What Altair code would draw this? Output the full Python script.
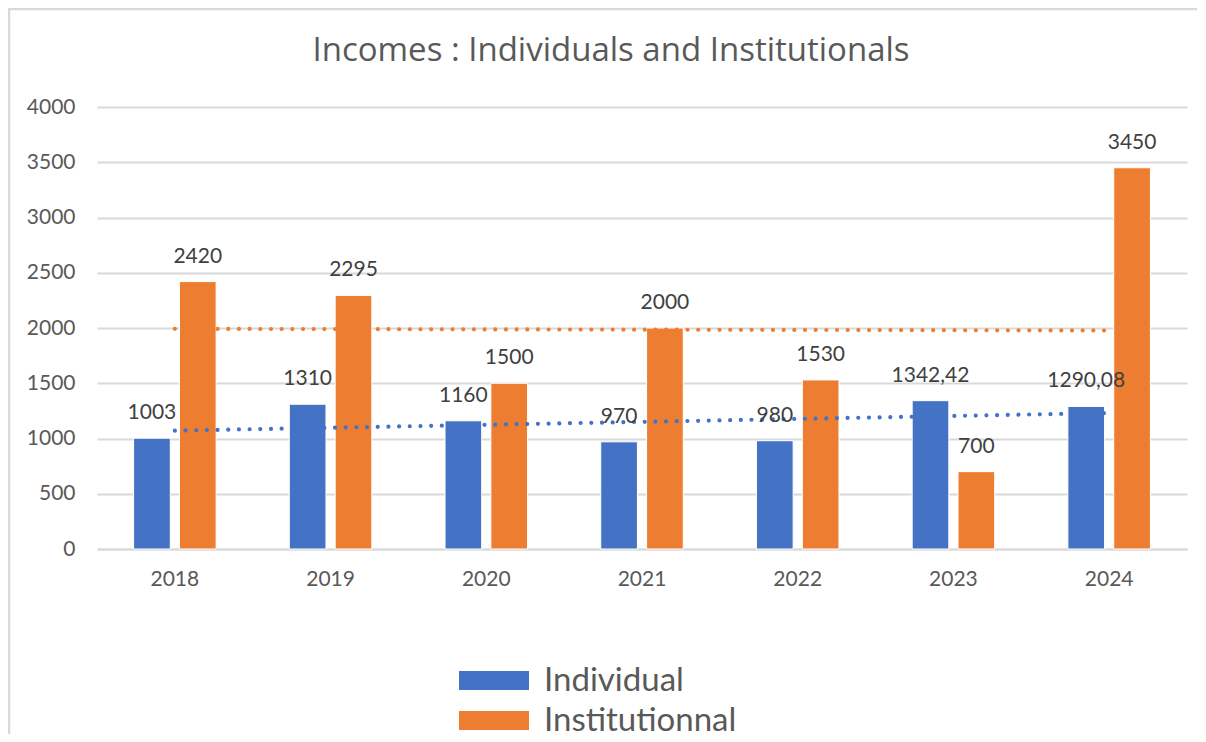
import altair as alt
import pandas as pd

years = [2018, 2019, 2020, 2021, 2022, 2023, 2024]
individual = [1003, 1310, 1160, 970, 980, 1342.42, 1290.08]
institutional = [2420, 2295, 1500, 2000, 1530, 700, 3450]
series_names = ["Individual", "Institutionnal"]
colors = ["#4472C4", "#ED7D31"]
title_text = "Incomes : Individuals and  Institutionals"

rows = []
for i, y in enumerate(years):
    rows.append({"yr": y, "series": series_names[0], "value": individual[i]})
    rows.append({"yr": y, "series": series_names[1], "value": institutional[i]})
df = pd.DataFrame(rows)

FONT = "Lato"
GRID = "#d9d9d9"
TXT = "#595959"

xscale = alt.Scale(paddingInner=0.47, paddingOuter=0.235)
color_scale = alt.Scale(domain=series_names, range=colors)

base = alt.Chart(df).transform_calculate(
    year="toString(datum.yr)",
    label="replace(toString(datum.value), '.', ',')",
)

x_enc = alt.X(
    "year:N",
    scale=xscale,
    sort=None,
    axis=alt.Axis(
        title=None, labelAngle=0, ticks=False, domainColor=GRID, domainWidth=2,
        labelFont=FONT, labelFontSize=21, labelColor=TXT, labelPadding=19,
    ),
)
y_enc = alt.Y(
    "value:Q",
    scale=alt.Scale(domain=[0, 4000], nice=False),
    axis=alt.Axis(
        title=None, values=list(range(0, 4001, 500)), format="d", ticks=False,
        domain=False, gridColor=GRID, gridWidth=2, labelFont=FONT,
        labelFontSize=21, labelColor=TXT, labelPadding=22,
    ),
)

bars = base.mark_bar(stroke="white", strokeWidth=1).encode(
    x=x_enc,
    y=y_enc,
    xOffset=alt.XOffset("series:N", scale=alt.Scale(paddingInner=0.2), sort=series_names),
    color=alt.Color(
        "series:N",
        scale=color_scale,
        legend=alt.Legend(
            title=None, orient="none", legendX=355, legendY=557, direction="vertical",
            symbolType="M-1,-1H6.368V1H-1Z", symbolSize=361, symbolStrokeWidth=0,
            symbolOpacity=1, labelFont=FONT, labelFontSize=33, labelColor=TXT,
            labelOffset=59, rowPadding=6, labelLimit=600,
        ),
    ),
)

trend = base.transform_regression(
    "yr", "value", groupby=["series"]
).transform_calculate(
    year="toString(datum.yr)"
).mark_line(strokeDash=[0.01, 10.67], strokeCap="round", strokeWidth=4.2).encode(
    x=alt.X("year:N", scale=xscale, sort=None),
    y=alt.Y("value:Q"),
    stroke=alt.Stroke("series:N", scale=alt.Scale(domain=series_names, range=colors), legend=None),
    detail="series:N",
)

labels = base.mark_text(
    font=FONT, fontSize=21, color="#404040", baseline="alphabetic", dy=-19
).encode(
    x=alt.X("year:N", scale=xscale, sort=None),
    y=alt.Y("value:Q"),
    xOffset=alt.XOffset("series:N", sort=series_names),
    text="label:N",
)

frame = alt.Chart(pd.DataFrame({"a": [0]})).mark_rect(
    fill=None, stroke=GRID, strokeWidth=2.5
).encode(
    x=alt.value(-88), x2=alt.value(1140), y=alt.value(-98), y2=alt.value(700)
)

chart = alt.layer(frame, bars, trend, labels).properties(
    width=1090,
    height=442,
    autosize=alt.AutoSizeParams(type="none"),
    padding={"left": 89, "top": 99, "right": 10, "bottom": 185},
    title=alt.TitleParams(
        text=title_text, font="Open Sans", fontSize=33, fontWeight="normal", color=TXT,
        anchor="middle", offset=-86, baseline="alphabetic", dx=-31,
    ),
).configure_view(stroke=None)

chart.save("out.html", embed_options={"renderer": "svg", "actions": False})
